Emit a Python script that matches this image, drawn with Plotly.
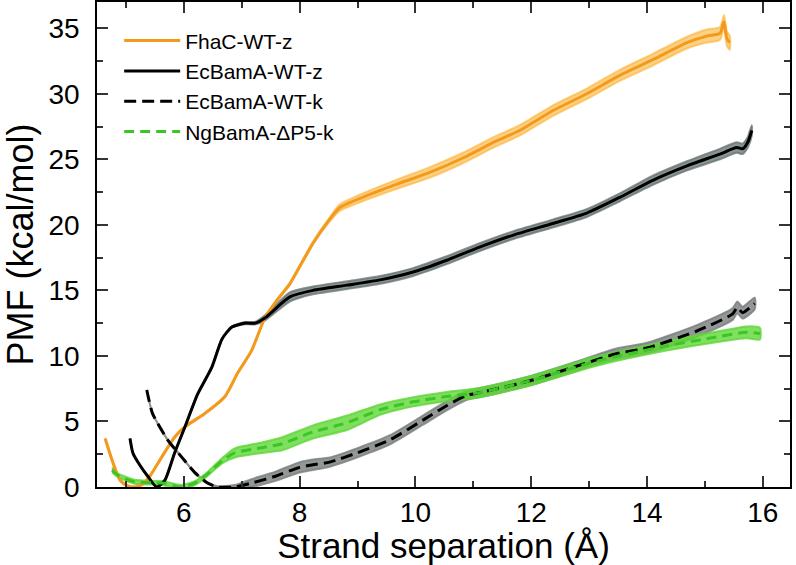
import plotly.graph_objects as go

# FhaC-WT-z
fhac_x = [4.64, 4.78, 4.9, 5.02, 5.15, 5.28, 5.41, 5.62, 5.84, 6.02, 6.36, 6.71, 6.93, 7.17, 7.4, 7.6,
          7.83, 8.23, 8.5, 8.69, 9.09, 9.68, 10.25, 10.82, 11.4, 11.8, 12.37, 12.96, 13.53, 14.1,
          14.69, 15.03, 15.26, 15.33, 15.38, 15.43]
fhac_y = [3.7, 1.8, 0.5, 0.1, 0.0, 0.2, 0.8, 2.3, 3.8, 4.6, 5.6, 6.9, 8.7, 10.4, 12.9, 14.2,
          15.5, 18.6, 20.3, 21.3, 22.1, 23.1, 24.0, 25.1, 26.4, 27.2, 28.7, 30.0, 31.4, 32.6,
          33.9, 34.4, 34.6, 35.5, 34.2, 33.9]
fhac_err = [0.05, 0.05, 0.05, 0.05, 0.05, 0.05, 0.05, 0.05, 0.05, 0.05, 0.05, 0.05, 0.05, 0.05, 0.05, 0.05,
            0.08, 0.1, 0.15, 0.25, 0.3, 0.35, 0.4, 0.4, 0.4, 0.4, 0.4, 0.4, 0.42, 0.45,
            0.45, 0.5, 0.5, 0.5, 0.55, 0.55]

# EcBamA-WT-z
ecz_x = [5.07, 5.12, 5.25, 5.38, 5.53, 5.67, 5.84, 6.02, 6.24, 6.48, 6.66, 6.83, 7.05, 7.23, 7.4,
         7.83, 8.23, 8.82, 9.39, 9.96, 10.54, 11.11, 11.68, 12.37, 12.96, 13.53, 14.1, 14.69,
         15.26, 15.55, 15.65, 15.74, 15.81]
ecz_y = [3.7, 2.6, 1.6, 0.8, 0.0, 0.5, 2.6, 4.6, 7.1, 9.1, 11.3, 12.2, 12.5, 12.5, 12.9,
         14.5, 15.0, 15.4, 15.8, 16.4, 17.3, 18.3, 19.2, 20.1, 20.9, 22.1, 23.4, 24.5,
         25.4, 25.9, 25.8, 26.3, 27.2]
ecz_err = [0.03, 0.03, 0.03, 0.03, 0.03, 0.03, 0.03, 0.03, 0.03, 0.03, 0.03, 0.05, 0.08, 0.1, 0.2,
           0.35, 0.3, 0.3, 0.3, 0.3, 0.3, 0.3, 0.3, 0.3, 0.3, 0.3, 0.35, 0.35,
           0.4, 0.4, 0.4, 0.4, 0.4]

# EcBamA-WT-k
eck_x = [5.36, 5.46, 5.72, 5.96, 6.19, 6.41, 6.59, 6.88, 7.17, 7.57, 8.0, 8.23, 8.52, 8.99, 9.56,
         10.13, 10.54, 10.89, 11.11, 11.98, 12.84, 13.5, 14.0, 14.86, 15.48, 15.56, 15.65, 15.86]
eck_y = [7.4, 5.6, 3.6, 2.3, 1.1, 0.3, 0.0, 0.0, 0.3, 0.8, 1.5, 1.7, 1.9, 2.6, 3.6,
         5.1, 6.2, 7.0, 7.2, 8.1, 9.3, 10.2, 10.6, 11.9, 13.2, 13.7, 13.3, 14.0]
eck_err = [0.02, 0.02, 0.02, 0.02, 0.02, 0.02, 0.05, 0.15, 0.3, 0.35, 0.4, 0.4, 0.35, 0.35, 0.35,
           0.35, 0.35, 0.35, 0.35, 0.35, 0.35, 0.4, 0.4, 0.45, 0.45, 0.45, 0.45, 0.45]

# NgBamA-dP5-k
ng_x = [4.76, 4.86, 5.15, 5.62, 5.96, 6.19, 6.41, 6.66, 6.88, 7.35, 7.7, 8.23, 8.82, 9.39, 9.96,
        10.54, 11.11, 11.98, 13.13, 14.27, 15.14, 15.72, 15.95]
ng_y = [1.3, 0.9, 0.4, 0.3, 0.0, 0.3, 1.0, 2.0, 2.6, 3.0, 3.3, 4.2, 4.9, 5.9, 6.5,
        6.9, 7.2, 8.1, 9.6, 10.7, 11.4, 11.8, 11.7]
ng_err = [0.2, 0.15, 0.15, 0.15, 0.15, 0.15, 0.15, 0.2, 0.35, 0.4, 0.5, 0.5, 0.55, 0.4, 0.35,
          0.35, 0.35, 0.35, 0.35, 0.35, 0.4, 0.45, 0.45]

series = [
    ('FhaC-WT-z', fhac_x, fhac_y, fhac_err, '#f39a1e', 'rgba(252,178,50,0.6)', 'solid'),
    ('EcBamA-WT-z', ecz_x, ecz_y, ecz_err, 'black', 'rgba(100,112,112,0.75)', 'solid'),
    ('EcBamA-WT-k', eck_x, eck_y, eck_err, 'black', 'rgba(120,125,125,0.8)', '12px,6px'),
    ('NgBamA-ΔP5-k', ng_x, ng_y, ng_err, '#3cc626', 'rgba(95,215,55,0.8)', '10px,6px'),
]

fig = go.Figure()

# shaded error bands first
for name, x, y, err, col, band, dash in series:
    upper = [v + e for v, e in zip(y, err)]
    lower = [v - e for v, e in zip(y, err)]
    fig.add_trace(go.Scatter(
        x = x + x[::-1], y = upper + lower[::-1],
        fill = 'toself', fillcolor = band,
        line = dict(color = band, width = 2, shape = 'spline', smoothing = 0.6),
        hoverinfo = 'skip', showlegend = False
    ))

for name, x, y, err, col, band, dash in series:
    fig.add_trace(go.Scatter(
        x = x, y = y, mode = 'lines', name = name,
        line = dict(color = col, width = 3, dash = dash, shape = 'spline', smoothing = 0.6)
    ))

axis_style = dict(
    showline = True, linecolor = 'black', linewidth = 1.5, mirror = 'ticks',
    ticks = 'inside', ticklen = 11, tickwidth = 1.5, tickcolor = '#333',
    showgrid = False, zeroline = False, automargin = False,
    tickfont = dict(size = 28, color = 'black'),
)

fig.update_xaxes(
    range = [4.5, 16.47], dtick = 2, tick0 = 0,
    minor = dict(dtick = 1, ticks = 'inside', ticklen = 6, tickcolor = '#333'),
    title = dict(text = 'Strand separation (Å)', font = dict(size = 35, color = 'black'), standoff = 7),
    ticklabelstandoff = 0,
    **axis_style
)
fig.update_yaxes(
    range = [0, 37], dtick = 5, tick0 = 0,
    minor = dict(dtick = 2.5, ticks = 'inside', ticklen = 6, tickcolor = '#333'),
    title = dict(text = 'PMF (kcal/mol)', font = dict(size = 36, color = 'black'), standoff = 6),
    ticklabelstandoff = 10,
    **axis_style
)

fig.update_layout(
    width = 796, height = 565,
    margin = dict(l = 97, r = 6, t = 2, b = 78),
    paper_bgcolor = 'white', plot_bgcolor = 'white',
    font = dict(family = 'Liberation Sans, Arial, sans-serif', color = 'black'),
    legend = dict(
        x = 0.032, y = 0.962, xanchor = 'left', yanchor = 'top',
        font = dict(size = 21), bgcolor = 'rgba(0,0,0,0)',
        tracegroupgap = 0, itemwidth = 56,
    ),
)

# drop the default page margin so the figure sits at the window corner
fig.write_html('out.html', config = {'displayModeBar': False},
               post_script = "document.body.style.margin = '0';")
